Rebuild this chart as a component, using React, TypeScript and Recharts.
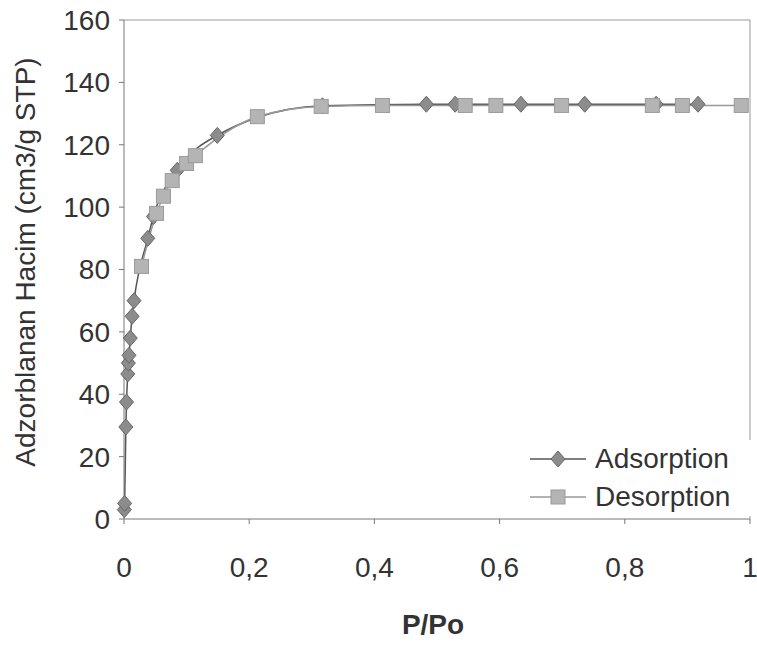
import { LineChart, Line, XAxis, YAxis, ReferenceLine, Legend } from "recharts";

// adsorption branch (diamonds), P/Po and volume adsorbed
const adsorptionP = [0.0005, 0.001, 0.003, 0.004, 0.006, 0.007, 0.008, 0.01, 0.013, 0.016, 0.038, 0.047, 0.085, 0.149, 0.317, 0.483, 0.529, 0.634, 0.736, 0.85, 0.917];
const adsorptionV = [3, 5, 29.5, 37.5, 46.5, 50, 52.5, 58, 65, 70, 90, 97, 111.8, 123, 132.5, 133, 133, 133, 133, 133, 133];

// desorption branch (squares)
const desorptionP = [0.028, 0.052, 0.063, 0.077, 0.1, 0.114, 0.213, 0.315, 0.413, 0.545, 0.594, 0.699, 0.844, 0.892, 0.986];
const desorptionV = [81, 98, 103.5, 108.5, 114, 116.5, 129, 132.3, 132.6, 132.6, 132.6, 132.6, 132.6, 132.6, 132.6];

const xTicks = [0, 0.2, 0.4, 0.6, 0.8, 1];
const yTicks = [0, 20, 40, 60, 80, 100, 120, 140, 160];

const adsorption = adsorptionP.map((p, i) => ({ p, v: adsorptionV[i] }));
const desorption = desorptionP.map((p, i) => ({ p, v: desorptionV[i] }));

const FONT = "'Liberation Sans', Arial, sans-serif";
const TEXT = "#333";

function Diamond(props: any) {
  const { cx, cy, index } = props;
  if (cx == null || cy == null) return null;
  return (
    <polygon
      key={`a-${index}`}
      points={`${cx},${cy - 8} ${cx + 7},${cy} ${cx},${cy + 8} ${cx - 7},${cy}`}
      fill="#8c8c8c"
      stroke="#666"
      strokeWidth={1}
    />
  );
}

function Square(props: any) {
  const { cx, cy, index } = props;
  if (cx == null || cy == null) return null;
  return <rect key={`d-${index}`} x={cx - 7} y={cy - 7} width={14} height={14} fill="#b4b4b4" stroke="#9a9a9a" strokeWidth={1} />;
}

function LegendBox({ payload }: any) {
  return (
    <div style={{ background: "#fff", fontFamily: FONT, fontSize: 28, color: TEXT }}>
      {(payload || []).map((entry: any) => (
        <div key={entry.value} style={{ display: "flex", alignItems: "center", height: 38 }}>
          <svg width={62} height={20}>
            <line x1={0} x2={56} y1={10} y2={10} stroke={entry.color} strokeWidth={1.5} />
            {entry.value === "Adsorption" ? <Diamond cx={28} cy={10} /> : <Square cx={28} cy={10} />}
          </svg>
          <span style={{ paddingLeft: 3 }}>{entry.value}</span>
        </div>
      ))}
    </div>
  );
}

function YTitle() {
  return (
    <text x={35} y={262} transform="rotate(-90 35 262)" textAnchor="middle" fontFamily={FONT} fontSize={28} fill={TEXT}>
      Adzorblanan Hacim (cm3/g STP)
    </text>
  );
}

function XTitle() {
  return (
    <text x={433} y={634} textAnchor="middle" fontFamily={FONT} fontSize={28} fontWeight="bold" fill={TEXT}>
      P/Po
    </text>
  );
}

export default function App() {
  return (
    <div style={{ position: "absolute", left: 0, top: 0, width: 757, height: 648, background: "#fff" }}>
      <LineChart width={757} height={648} margin={{ top: 20, right: 7, bottom: 0, left: 0 }}>
        <XAxis
          type="number"
          dataKey="p"
          domain={[0, 1]}
          ticks={xTicks}
          tickFormatter={(v: number) => String(v).replace(".", ",")}
          height={129}
          stroke="#777"
          tickSize={5}
          tickMargin={33}
          tick={{ fontSize: 28, fill: TEXT, fontFamily: FONT }}
          label={<XTitle />}
        />
        <YAxis
          type="number"
          dataKey="v"
          domain={[0, 160]}
          ticks={yTicks}
          width={124}
          stroke="#777"
          tickSize={5}
          tickMargin={9}
          tick={{ fontSize: 28, fill: TEXT, fontFamily: FONT }}
          label={<YTitle />}
        />
        <ReferenceLine y={160} stroke="#999" />
        <ReferenceLine x={1} stroke="#999" />
        <Line
          name="Adsorption"
          data={adsorption}
          dataKey="v"
          type="monotone"
          stroke="#555"
          strokeWidth={1.5}
          dot={Diamond}
          activeDot={false}
          isAnimationActive={false}
        />
        <Line
          name="Desorption"
          data={desorption}
          dataKey="v"
          type="monotone"
          stroke="#999"
          strokeWidth={1.5}
          dot={Square}
          activeDot={false}
          isAnimationActive={false}
        />
        <Legend
          layout="horizontal"
          verticalAlign="middle"
          align="center"
          content={<LegendBox />}
          wrapperStyle={{ position: "absolute", left: 530, top: 440, width: 226, height: 76 }}
        />
      </LineChart>
    </div>
  );
}
